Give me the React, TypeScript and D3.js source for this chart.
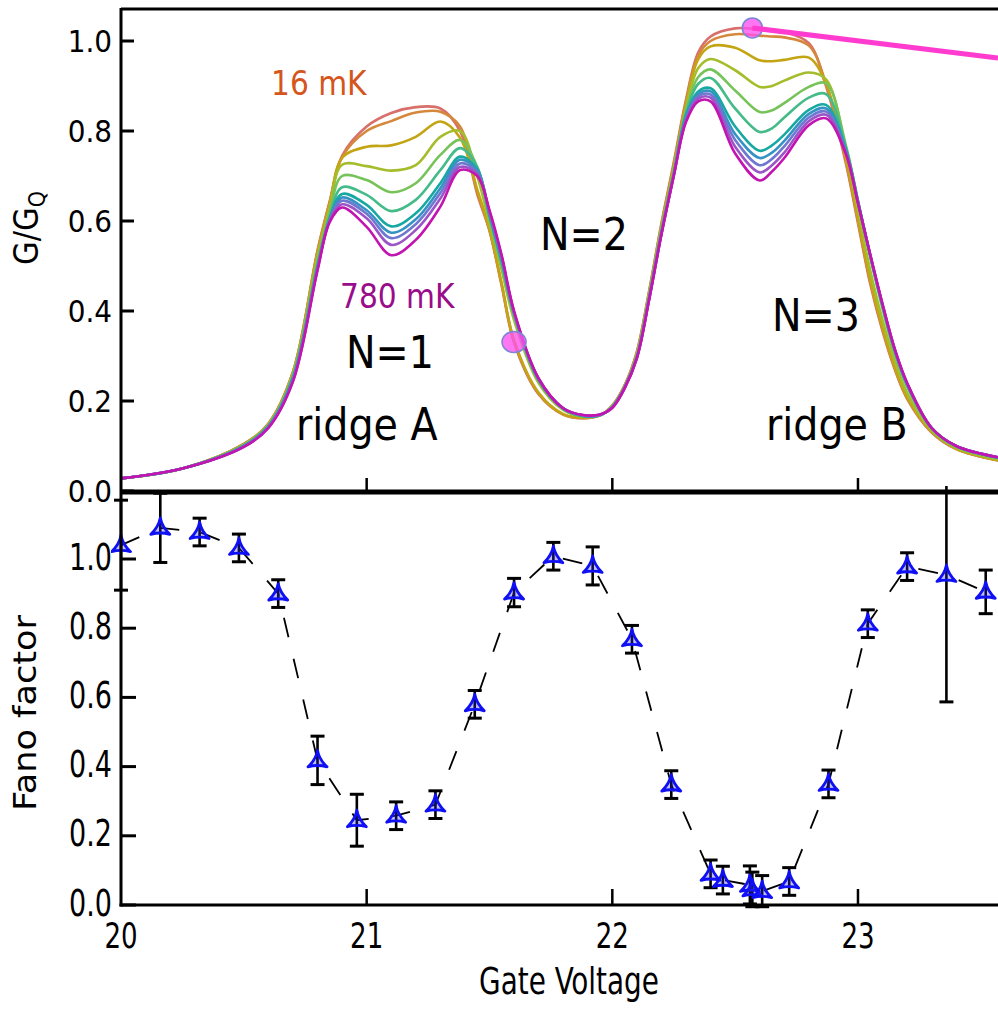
import { useMemo } from "react";
import { curveCatmullRom, line, scaleLinear } from "d3";

const WIDTH = 998;
const HEIGHT = 1010;
const FONT = "'DejaVu Sans Condensed', 'DejaVu Sans', sans-serif";

// gate voltage grid shared by the conductance traces
const GATE_V = [
  20.0, 20.25, 20.5, 20.6, 20.7, 20.8, 20.85, 20.9, 21.0, 21.1, 21.2, 21.3, 21.38, 21.45, 21.5,
  21.55, 21.6, 21.7, 21.8, 21.88, 21.95, 22.0, 22.05, 22.1, 22.15, 22.2, 22.25, 22.3, 22.35, 22.4,
  22.5, 22.6, 22.65, 22.7, 22.8, 22.87, 22.95, 23.0, 23.05, 23.1, 23.15, 23.2, 23.3, 23.4, 23.57,
];

// G/GQ, coldest (16 mK) first, warmest (780 mK) last
const G_T0 = [0.028, 0.05, 0.105, 0.15, 0.265, 0.535, 0.645, 0.745, 0.81, 0.84, 0.853, 0.85, 0.8, 0.66, 0.578, 0.455, 0.33, 0.215, 0.17, 0.162, 0.168, 0.19, 0.235, 0.31, 0.445, 0.595, 0.73, 0.87, 0.975, 1.01, 1.028, 1.026, 1.024, 1.02, 0.995, 0.9, 0.73, 0.595, 0.46, 0.355, 0.27, 0.205, 0.13, 0.093, 0.068];
const G_T1 = [0.028, 0.05, 0.104, 0.149, 0.264, 0.532, 0.642, 0.742, 0.8, 0.822, 0.841, 0.843, 0.81, 0.665, 0.58, 0.458, 0.333, 0.217, 0.17, 0.162, 0.168, 0.19, 0.234, 0.308, 0.443, 0.592, 0.725, 0.865, 0.968, 1.0, 1.015, 1.012, 1.01, 1.008, 0.99, 0.905, 0.735, 0.6, 0.465, 0.36, 0.272, 0.207, 0.131, 0.094, 0.068];
const G_T2 = [0.028, 0.05, 0.104, 0.149, 0.263, 0.53, 0.64, 0.74, 0.765, 0.768, 0.787, 0.821, 0.785, 0.67, 0.582, 0.46, 0.335, 0.218, 0.171, 0.163, 0.168, 0.19, 0.233, 0.306, 0.44, 0.588, 0.72, 0.86, 0.96, 0.988, 0.985, 0.957, 0.955, 0.958, 0.963, 0.905, 0.74, 0.605, 0.47, 0.362, 0.275, 0.208, 0.132, 0.094, 0.069];
const G_T3 = [0.028, 0.05, 0.103, 0.147, 0.26, 0.52, 0.63, 0.725, 0.722, 0.712, 0.724, 0.787, 0.8, 0.7, 0.595, 0.49, 0.38, 0.24, 0.18, 0.165, 0.168, 0.188, 0.232, 0.303, 0.437, 0.585, 0.715, 0.85, 0.94, 0.96, 0.935, 0.898, 0.9, 0.912, 0.93, 0.915, 0.76, 0.625, 0.49, 0.38, 0.29, 0.218, 0.135, 0.096, 0.07];
const G_T4 = [0.028, 0.05, 0.102, 0.146, 0.257, 0.51, 0.62, 0.7, 0.691, 0.664, 0.684, 0.747, 0.78, 0.72, 0.605, 0.5, 0.39, 0.245, 0.182, 0.166, 0.168, 0.188, 0.231, 0.301, 0.434, 0.58, 0.71, 0.845, 0.92, 0.937, 0.89, 0.842, 0.846, 0.862, 0.898, 0.906, 0.77, 0.645, 0.52, 0.405, 0.305, 0.232, 0.138, 0.098, 0.073];
const G_T5 = [0.028, 0.05, 0.101, 0.145, 0.254, 0.505, 0.612, 0.675, 0.658, 0.622, 0.647, 0.713, 0.762, 0.72, 0.61, 0.505, 0.392, 0.246, 0.183, 0.167, 0.169, 0.187, 0.23, 0.299, 0.431, 0.577, 0.706, 0.84, 0.905, 0.918, 0.85, 0.798, 0.806, 0.83, 0.874, 0.882, 0.765, 0.645, 0.522, 0.41, 0.31, 0.235, 0.139, 0.099, 0.074];
const G_T6 = [0.028, 0.05, 0.1, 0.144, 0.252, 0.5, 0.607, 0.66, 0.636, 0.588, 0.617, 0.684, 0.743, 0.715, 0.613, 0.51, 0.394, 0.247, 0.183, 0.167, 0.169, 0.187, 0.23, 0.298, 0.429, 0.575, 0.704, 0.835, 0.888, 0.895, 0.81, 0.756, 0.768, 0.792, 0.847, 0.858, 0.76, 0.643, 0.523, 0.412, 0.312, 0.237, 0.14, 0.1, 0.074];
const G_T7 = [0.028, 0.05, 0.1, 0.143, 0.25, 0.497, 0.605, 0.652, 0.624, 0.574, 0.604, 0.673, 0.736, 0.712, 0.616, 0.515, 0.396, 0.248, 0.184, 0.168, 0.169, 0.186, 0.229, 0.297, 0.428, 0.573, 0.702, 0.83, 0.882, 0.888, 0.793, 0.74, 0.752, 0.778, 0.838, 0.85, 0.758, 0.642, 0.524, 0.413, 0.313, 0.238, 0.14, 0.1, 0.075];
const G_T8 = [0.028, 0.05, 0.099, 0.142, 0.247, 0.495, 0.603, 0.645, 0.616, 0.562, 0.593, 0.662, 0.728, 0.708, 0.618, 0.518, 0.397, 0.249, 0.184, 0.168, 0.169, 0.186, 0.229, 0.296, 0.427, 0.572, 0.701, 0.826, 0.877, 0.881, 0.78, 0.724, 0.738, 0.766, 0.83, 0.843, 0.755, 0.641, 0.524, 0.414, 0.314, 0.239, 0.14, 0.1, 0.075];
const G_T9 = [0.028, 0.05, 0.098, 0.141, 0.245, 0.493, 0.6, 0.637, 0.606, 0.547, 0.58, 0.65, 0.72, 0.704, 0.621, 0.52, 0.398, 0.25, 0.184, 0.169, 0.17, 0.185, 0.228, 0.296, 0.426, 0.571, 0.7, 0.823, 0.872, 0.874, 0.765, 0.708, 0.724, 0.752, 0.822, 0.836, 0.752, 0.64, 0.525, 0.415, 0.315, 0.24, 0.14, 0.1, 0.075];
const G_T10 = [0.028, 0.05, 0.098, 0.14, 0.243, 0.49, 0.598, 0.63, 0.587, 0.524, 0.558, 0.632, 0.713, 0.7, 0.624, 0.523, 0.4, 0.25, 0.184, 0.169, 0.17, 0.185, 0.228, 0.295, 0.425, 0.57, 0.7, 0.82, 0.866, 0.866, 0.75, 0.69, 0.71, 0.74, 0.813, 0.828, 0.75, 0.64, 0.525, 0.415, 0.315, 0.24, 0.14, 0.1, 0.075];

const CURVES = [G_T0, G_T1, G_T2, G_T3, G_T4, G_T5, G_T6, G_T7, G_T8, G_T9, G_T10];
const CURVE_COLORS = ["#d86f6a", "#d5873c", "#c3a514", "#a4bd2a", "#77c35a", "#44bb88", "#17a8a2", "#3593c4", "#6e78d0", "#9b55c6", "#c214b0"];

// Fano factor points with error bars
const FANO_V = [20.0, 20.16, 20.32, 20.48, 20.64, 20.8, 20.96, 21.12, 21.28, 21.44, 21.6, 21.76, 21.92, 22.08, 22.24, 22.4, 22.45, 22.56, 22.57, 22.61, 22.72, 22.88, 23.04, 23.2, 23.36, 23.52];
const FANO = [1.04, 1.09, 1.078, 1.032, 0.9, 0.418, 0.245, 0.258, 0.29, 0.58, 0.903, 1.008, 0.98, 0.768, 0.348, 0.09, 0.072, 0.058, 0.045, 0.04, 0.068, 0.35, 0.813, 0.978, 0.954, 0.905];
const FANO_ERR = [0.13, 0.1, 0.04, 0.04, 0.04, 0.07, 0.075, 0.04, 0.04, 0.04, 0.041, 0.04, 0.055, 0.04, 0.04, 0.04, 0.04, 0.055, 0.05, 0.045, 0.04, 0.04, 0.04, 0.04, 0.367, 0.063];

// points marked on the conductance traces, and the pointer line
const MARK_V = [21.6, 22.57];
const MARK_G = [0.331, 1.029];
const POINTER_V = [22.57, 23.57];
const POINTER_G = [1.029, 0.962];

const Y_TICKS = [0, 0.2, 0.4, 0.6, 0.8, 1.0];
const X_TICKS = [20, 21, 22, 23];

const LEFT = 121;
const TOP_Y0 = 491;
const BOT_Y0 = 905;
const STRETCH = 1.22;

const TRI = "M0,-10 Q1.6,-1 9.5,6.5 Q0,3.8 -9.5,6.5 Q-1.6,-1 0,-10 Z";

export default function App() {
  const x = useMemo(() => scaleLinear().domain([20, 23.57]).range([LEFT, WIDTH]), []);
  const yTop = useMemo(() => scaleLinear().domain([0, 1]).range([TOP_Y0, 41]), []);
  const yBot = useMemo(() => scaleLinear().domain([0, 1]).range([BOT_Y0, 559]), []);

  const traceLine = line<number>()
    .x((_, i) => x(GATE_V[i]))
    .y((g) => yTop(g))
    .curve(curveCatmullRom.alpha(0.5));

  const fanoLine = line<number>()
    .x((_, i) => x(FANO_V[i]))
    .y((f) => yBot(f));

  const stretchText = (tx: number, ty: number, label: string, anchor: string, size: number, key?: string) => (
    <text key={key} transform={`translate(${tx},${ty}) scale(1,${STRETCH})`} textAnchor={anchor} fontSize={size}>
      {label}
    </text>
  );

  return (
    <svg
      width={WIDTH}
      height={HEIGHT}
      viewBox={`0 0 ${WIDTH} ${HEIGHT}`}
      style={{ position: "absolute", left: 0, top: 0, background: "#fff" }}
      fontFamily={FONT}
      fontStretch="condensed"
    >
      <defs>
        <clipPath id="clipTop">
          <rect x={LEFT} y={9} width={WIDTH - LEFT} height={TOP_Y0 - 9} />
        </clipPath>
        <clipPath id="clipBot">
          <rect x={LEFT - 10} y={486} width={WIDTH - LEFT + 10} height={BOT_Y0 - 486 + 12} />
        </clipPath>
      </defs>

      {/* upper panel: conductance traces */}
      <g clipPath="url(#clipTop)">
        {CURVES.map((g, i) => (
          <path key={i} d={traceLine(g) ?? ""} fill="none" stroke={CURVE_COLORS[i]} strokeWidth={2.6} strokeLinejoin="round" />
        ))}
        {MARK_V.map((v, i) => (
          <ellipse
            key={i}
            cx={x(v)}
            cy={yTop(MARK_G[i])}
            rx={i === 0 ? 12 : 10}
            ry={i === 0 ? 10.5 : 10}
            fill="#ff4ff0"
            fillOpacity={0.78}
            stroke="#7a86d6"
            strokeWidth={1.6}
          />
        ))}
        <line
          x1={x(POINTER_V[0])}
          y1={yTop(POINTER_G[0])}
          x2={x(POINTER_V[1])}
          y2={yTop(POINTER_G[1])}
          stroke="#ff3ccf"
          strokeWidth={5}
        />
      </g>

      {/* upper panel frame and ticks */}
      <g stroke="#000" fill="none">
        <line x1={LEFT} x2={WIDTH} y1={9} y2={9} strokeWidth={3} />
        <line x1={LEFT} x2={LEFT} y1={8} y2={TOP_Y0} strokeWidth={3} />
        <line x1={LEFT} x2={WIDTH} y1={TOP_Y0 + 1} y2={TOP_Y0 + 1} strokeWidth={5} />
        {Y_TICKS.map((t) => (
          <line key={t} x1={LEFT} x2={LEFT + 13} y1={yTop(t)} y2={yTop(t)} strokeWidth={3} />
        ))}
        {X_TICKS.slice(1).map((t) => (
          <line key={t} x1={x(t)} x2={x(t)} y1={TOP_Y0 - 13} y2={TOP_Y0} strokeWidth={2.5} />
        ))}
      </g>
      <g fontSize={31} fill="#000">
        {Y_TICKS.map((t) => (
          <text key={t} x={112} y={yTop(t)} dy="0.36em" textAnchor="end">
            {t.toFixed(1)}
          </text>
        ))}
      </g>
      <text transform="translate(38,228) rotate(-90)" textAnchor="middle" fontSize={34}>
        G/G
        <tspan fontSize={23} dy={7}>Q</tspan>
      </text>

      {/* annotations */}
      <text x={271} y={95} fontSize={33} fill="#d4561c">16 mK</text>
      <text x={340} y={308} fontSize={33} fill="#990d8a">780 mK</text>
      <g fontSize={44} fill="#000">
        <text x={346} y={368}>N=1</text>
        <text x={540} y={250}>N=2</text>
        <text x={772} y={331}>N=3</text>
        <text x={296} y={440}>ridge A</text>
        <text x={766} y={440}>ridge B</text>
      </g>

      {/* lower panel: Fano factor */}
      <g clipPath="url(#clipBot)">
        <path d={fanoLine(FANO) ?? ""} fill="none" stroke="#000" strokeWidth={1.8} strokeDasharray="20 22" />
        {FANO_V.map((v, i) => {
          const cx = x(v);
          const hi = yBot(FANO[i] + FANO_ERR[i]);
          const lo = yBot(FANO[i] - FANO_ERR[i]);
          return (
            <g key={i} stroke="#000">
              <line x1={cx} x2={cx} y1={hi} y2={lo} strokeWidth={2.6} />
              <line x1={cx - 7} x2={cx + 7} y1={hi} y2={hi} strokeWidth={3} />
              <line x1={cx - 7} x2={cx + 7} y1={lo} y2={lo} strokeWidth={3} />
            </g>
          );
        })}
        {FANO_V.map((v, i) => (
          <path
            key={i}
            d={TRI}
            transform={`translate(${x(v)},${yBot(FANO[i])})`}
            fill="#2a2aff"
            fillOpacity={0.3}
            stroke="#1010f5"
            strokeWidth={2.8}
            strokeLinejoin="round"
          />
        ))}
      </g>

      <g stroke="#000" fill="none">
        <line x1={LEFT} x2={LEFT} y1={TOP_Y0} y2={BOT_Y0 + 1.5} strokeWidth={3} />
        <line x1={LEFT - 1.5} x2={WIDTH} y1={BOT_Y0} y2={BOT_Y0} strokeWidth={3} />
        {Y_TICKS.map((t) => (
          <line key={t} x1={LEFT} x2={LEFT + 15} y1={yBot(t)} y2={yBot(t)} strokeWidth={3} />
        ))}
        {X_TICKS.slice(1).map((t) => (
          <line key={t} x1={x(t)} x2={x(t)} y1={BOT_Y0 - 16} y2={BOT_Y0} strokeWidth={2.5} />
        ))}
      </g>
      <g fill="#000">
        {Y_TICKS.map((t) => stretchText(112, yBot(t) + 10.5, t.toFixed(1), "end", 30, `y${t}`))}
        {X_TICKS.map((t) => stretchText(x(t), 948, String(t), "middle", 29, `x${t}`))}
        {stretchText(569, 994, "Gate Voltage", "middle", 31)}
      </g>
      <text transform={`translate(36,713) rotate(-90) scale(${STRETCH},1)`} textAnchor="middle" fontSize={32}>
        Fano factor
      </text>
    </svg>
  );
}
